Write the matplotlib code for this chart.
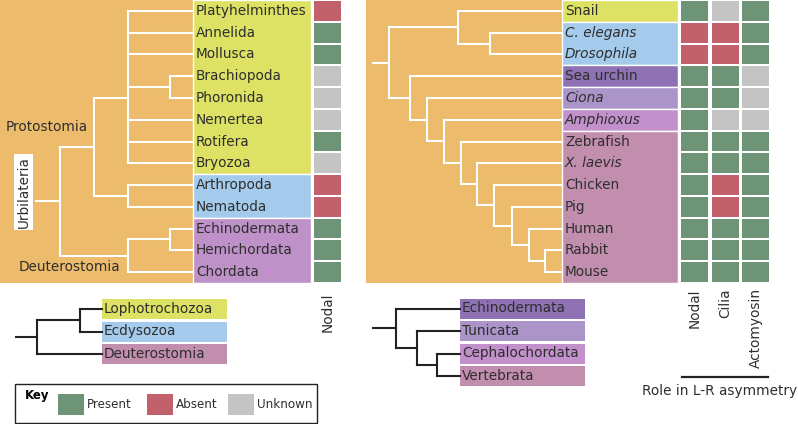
import matplotlib.pyplot as plt
from matplotlib.patches import Rectangle

# ---------------- data ----------------
phyla = ['Platyhelminthes', 'Annelida', 'Mollusca', 'Brachiopoda', 'Phoronida',
         'Nemertea', 'Rotifera', 'Bryozoa', 'Arthropoda', 'Nematoda',
         'Echinodermata', 'Hemichordata', 'Chordata']
phyla_group = ['Lophotrochozoa'] * 8 + ['Ecdysozoa'] * 2 + ['Deuterostomia'] * 3
phyla_nodal = ['A', 'P', 'P', 'U', 'U', 'U', 'P', 'U', 'A', 'A', 'P', 'P', 'P']

species = ['Snail', 'C. elegans', 'Drosophila', 'Sea urchin', 'Ciona', 'Amphioxus',
           'Zebrafish', 'X. laevis', 'Chicken', 'Pig', 'Human', 'Rabbit', 'Mouse']
species_italic = ['C. elegans', 'Drosophila', 'Ciona', 'Amphioxus', 'X. laevis']
species_group = ['Lophotrochozoa', 'Ecdysozoa', 'Ecdysozoa', 'Echinodermata', 'Tunicata',
                 'Cephalochordata'] + ['Vertebrata'] * 7
roles = ['Nodal', 'Cilia', 'Actomyosin']
species_nodal = ['P', 'A', 'A', 'P', 'P', 'P', 'P', 'P', 'P', 'P', 'P', 'P', 'P']
species_cilia = ['U', 'A', 'A', 'P', 'P', 'U', 'P', 'P', 'A', 'A', 'P', 'P', 'P']
species_actomyosin = ['P', 'P', 'P', 'U', 'U', 'U', 'P', 'P', 'P', 'P', 'P', 'P', 'P']

key_codes = ['P', 'A', 'U']
key_labels = ['Present', 'Absent', 'Unknown']

# tree topologies (name, children)
phyla_tree = ('Urbilateria', [
    ('Protostomia', [
        ('Lophotrochozoa', ['Platyhelminthes', 'Annelida', 'Mollusca',
                            ('Brach+Phor', ['Brachiopoda', 'Phoronida']),
                            'Nemertea', 'Rotifera', 'Bryozoa']),
        ('Ecdysozoa', ['Arthropoda', 'Nematoda'])]),
    ('Deuterostomia', [('Ambulacraria', ['Echinodermata', 'Hemichordata']), 'Chordata'])])

species_tree = ('Bilateria', [
    ('Protostomia', ['Snail', ('Ecdysozoa', ['C. elegans', 'Drosophila'])]),
    ('Deuterostomia', ['Sea urchin', ('Chordata', ['Ciona', ('Euchordata', ['Amphioxus',
        ('Vertebrata', ['Zebrafish', ('Tetrapoda', ['X. laevis', ('Amniota', ['Chicken',
            ('Mammalia', ['Pig', ('Boreo', ['Human', ('Glires', ['Rabbit', 'Mouse'])])])])])])])])])])

clades_a = ['Lophotrochozoa', 'Ecdysozoa', 'Deuterostomia']
clades_a_tree = ('Bilateria', [('Protostomia', ['Lophotrochozoa', 'Ecdysozoa']), 'Deuterostomia'])
clades_b = ['Echinodermata', 'Tunicata', 'Cephalochordata', 'Vertebrata']
clades_b_tree = ('Deuterostomia', ['Echinodermata', ('Chordata', ['Tunicata',
                 ('Euchordata', ['Cephalochordata', 'Vertebrata'])])])

# ---------------- styles / layout ----------------
ORANGE = '#ecbb6b'
TXT = '#2e2e2e'
status_col = {'P': '#6e9477', 'A': '#c2616b', 'U': '#c4c4c4'}
group_col = {'Lophotrochozoa': '#dde264', 'Ecdysozoa': '#a4cbeb', 'Deuterostomia': '#be92c9',
             'Echinodermata': '#8f72b4', 'Tunicata': '#aa94c8', 'Cephalochordata': '#c290ca',
             'Vertebrata': '#c28eae'}
legend_col = dict(group_col, Deuterostomia='#c28eae')

H = 283 / 13          # row height of main panels
FS = 9.8

plt.rcParams['font.family'] = 'DejaVu Sans'
fig = plt.figure(figsize=(7.98, 4.24), dpi=100)
ax = fig.add_axes([0, 0, 1, 1])
ax.set_xlim(0, 798)
ax.set_ylim(424, 0)
ax.axis('off')


def draw_tree(node, leaf_y, node_x, leaf_end, color, lw, align=None):
    name, children = node
    ys = []
    for ch in children:
        if isinstance(ch, tuple):
            cy = draw_tree(ch, leaf_y, node_x, leaf_end, color, lw, align)
            cx = node_x[ch[0]]
        else:
            cy = leaf_y[ch]
            cx = leaf_end
        ax.plot([node_x[name], cx], [cy, cy], color=color, lw=lw, solid_capstyle='projecting')
        ys.append(cy)
    ax.plot([node_x[name]] * 2, [min(ys), max(ys)], color=color, lw=lw,
            solid_capstyle='projecting')
    if align and name in align:
        return leaf_y[align[name]]
    return (min(ys) + max(ys)) / 2


def group_boxes(groups, x0, w, y0, h, colors):
    start = 0
    for i in range(1, len(groups) + 1):
        if i == len(groups) or groups[i] != groups[start]:
            ax.add_patch(Rectangle((x0, y0 + start * h), w, (i - start) * h,
                                   fc=colors[groups[start]], ec='white', lw=1))
            start = i


# ---------------- left panel ----------------
ax.add_patch(Rectangle((0, 0), 193, 283, fc=ORANGE, ec='none'))
group_boxes(phyla_group, 193, 118, 0, H, group_col)
left_y = {p: (i + 0.5) * H for i, p in enumerate(phyla)}
left_x = {'Urbilateria': 60, 'Protostomia': 94, 'Lophotrochozoa': 128, 'Brach+Phor': 170,
          'Ecdysozoa': 128, 'Deuterostomia': 128, 'Ambulacraria': 170}
ry = draw_tree(phyla_tree, left_y, left_x, 193, 'white', 1.5, align={'Lophotrochozoa': 'Phoronida'})
ax.plot([36, 60], [ry, ry], color='white', lw=1.5, solid_capstyle='projecting')
for p in phyla:
    ax.text(196, left_y[p], p, fontsize=FS, color=TXT, va='center', ha='left')
for i, s in enumerate(phyla_nodal):
    ax.add_patch(Rectangle((314, i * H + 1), 27, H - 2, fc=status_col[s], ec='none'))
ax.text(6, 127, 'Protostomia', fontsize=FS, color=TXT, va='center', ha='left')
ax.text(19, 267, 'Deuterostomia', fontsize=FS, color=TXT, va='center', ha='left')
ax.add_patch(Rectangle((14, 154), 19, 76, fc='white', ec='none'))
ax.text(23.5, 192, 'Urbilateria', fontsize=FS, color=TXT, va='center', ha='center', rotation=90)
ax.text(328, 293, 'Nodal', fontsize=FS, color=TXT, va='top', ha='center', rotation=90)

# ---------------- right panel ----------------
ax.add_patch(Rectangle((366, 0), 196, 283, fc=ORANGE, ec='none'))
group_boxes(species_group, 562, 116, 0, H, group_col)
right_y = {s: (i + 0.5) * H for i, s in enumerate(species)}
right_x = {'Bilateria': 389, 'Protostomia': 458, 'Ecdysozoa': 490, 'Deuterostomia': 410,
           'Chordata': 427, 'Euchordata': 444, 'Vertebrata': 461, 'Tetrapoda': 477,
           'Amniota': 494, 'Mammalia': 512, 'Boreo': 529, 'Glires': 545}
ry = draw_tree(species_tree, right_y, right_x, 562, 'white', 1.5)
ax.plot([373, 389], [ry, ry], color='white', lw=1.5, solid_capstyle='projecting')
for s in species:
    ax.text(565, right_y[s], s, fontsize=FS, color=TXT, va='center', ha='left',
            style='italic' if s in species_italic else 'normal')
col_x = [681, 712, 742]
for cx, role, vals in zip(col_x, roles, [species_nodal, species_cilia, species_actomyosin]):
    for i, s in enumerate(vals):
        ax.add_patch(Rectangle((cx, i * H + 1), 27, H - 2, fc=status_col[s], ec='none'))
    ax.text(cx + 13.5, 288, role, fontsize=FS, color=TXT, va='top', ha='center', rotation=90)
ax.plot([682, 768], [377, 377], color='#222222', lw=1.6)
ax.text(642, 391, 'Role in L-R asymmetry', fontsize=FS, color=TXT, va='center', ha='left')

# ---------------- small clade trees ----------------
RH = 22.5
a_y = {c: 309 + i * RH for i, c in enumerate(clades_a)}
for c in clades_a:
    ax.add_patch(Rectangle((102, a_y[c] - 10), 125, 20, fc=legend_col[c], ec='none'))
    ax.text(104, a_y[c], c, fontsize=FS, color=TXT, va='center', ha='left')
ry = draw_tree(clades_a_tree, a_y, {'Bilateria': 37, 'Protostomia': 80}, 102, '#222222', 1.5)
ax.plot([16, 37], [ry, ry], color='#222222', lw=1.5, solid_capstyle='projecting')

b_y = {c: 308.5 + i * RH for i, c in enumerate(clades_b)}
for c in clades_b:
    ax.add_patch(Rectangle((460, b_y[c] - 10), 125, 20, fc=legend_col[c], ec='none'))
    ax.text(462, b_y[c], c, fontsize=FS, color=TXT, va='center', ha='left')
ry = draw_tree(clades_b_tree, b_y, {'Deuterostomia': 396, 'Chordata': 417, 'Euchordata': 437},
               460, '#222222', 1.5)
ax.plot([373, 396], [ry, ry], color='#222222', lw=1.5, solid_capstyle='projecting')

# ---------------- key ----------------
ax.add_patch(Rectangle((15, 384), 302, 39, fc='white', ec='#222222', lw=1))
ax.text(25, 396, 'Key', fontsize=8.5, fontweight='bold', color='black', va='center', ha='left')
for sx, code, lab in zip([58, 147, 228], key_codes, key_labels):
    ax.add_patch(Rectangle((sx, 394), 26, 21, fc=status_col[code], ec='none'))
    ax.text(sx + 29, 405, lab, fontsize=8.6, color=TXT, va='center', ha='left')

fig.savefig('out.png', dpi=100)
